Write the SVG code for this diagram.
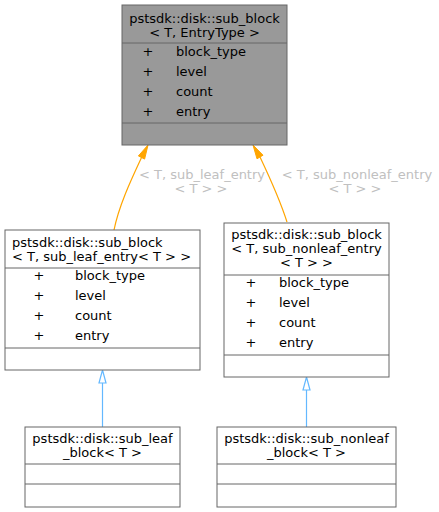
<svg xmlns="http://www.w3.org/2000/svg" width="439" height="512" viewBox="0 0 439 512">
<style>
text{font-family:"DejaVu Sans","Liberation Sans",sans-serif;font-size:13px;fill:#000}
.m{text-anchor:middle}
.box{fill:#fff;stroke:#666;stroke-width:1}
.cur{fill:#999;stroke:#666;stroke-width:1}
.sep{stroke:#666;stroke-width:1}
.lbl{fill:#c0c0c0;text-anchor:middle}
.tpl{fill:none;stroke:#ffa500;stroke-width:1.2}
.inh{fill:none;stroke:#63b8ff;stroke-width:1.2}
</style>
<rect width="439" height="512" fill="#fff"/>
<g id="connectors">
<path class="tpl" d="M114,230 C119,205 132,178 141.5,157.5"/>
<polygon points="148,145 144.6,159.1 138.4,155.9" fill="#ffa500" stroke="#ffa500"/>
<path class="tpl" d="M287,222 C280,200 269,176 260,157"/>
<polygon points="253,145 263,155.2 257,158.8" fill="#ffa500" stroke="#ffa500"/>
<text class="lbl" x="202" y="179">&lt; T, sub_leaf_entry</text>
<text class="lbl" x="201" y="193">&lt; T &gt; &gt;</text>
<text class="lbl" x="357" y="179">&lt; T, sub_nonleaf_entry</text>
<text class="lbl" x="355" y="193">&lt; T &gt; &gt;</text>
<path class="inh" d="M102.5,427 V383"/>
<polygon points="102.5,370 106,383 99,383" fill="#fff" stroke="#63b8ff" stroke-width="1.2"/>
<path class="inh" d="M306.5,427 V390"/>
<polygon points="306.5,377 310,390 303,390" fill="#fff" stroke="#63b8ff" stroke-width="1.2"/>
</g>
<g id="node_sub_block">
<rect class="cur" x="122" y="5" width="165" height="140"/>
<line class="sep" x1="122" y1="43" x2="287" y2="43"/>
<line class="sep" x1="122" y1="123" x2="287" y2="123"/>
<text class="m" x="204.5" y="23">pstsdk::disk::sub_block</text>
<text class="m" x="204.5" y="37">&lt; T, EntryType &gt;</text>
<text class="m" x="148" y="56">+</text><text x="176" y="56">block_type</text>
<text class="m" x="148" y="76">+</text><text x="176" y="76">level</text>
<text class="m" x="148" y="96">+</text><text x="176" y="96">count</text>
<text class="m" x="148" y="116">+</text><text x="176" y="116">entry</text>
</g>
<g id="node_sub_block_leaf">
<rect class="box" x="5" y="230" width="195" height="140"/>
<line class="sep" x1="5" y1="268" x2="200" y2="268"/>
<line class="sep" x1="5" y1="348" x2="200" y2="348"/>
<text x="12" y="246.5">pstsdk::disk::sub_block</text>
<text x="12" y="260.5">&lt; T, sub_leaf_entry&lt; T &gt; &gt;</text>
<text class="m" x="39" y="280">+</text><text x="75" y="280">block_type</text>
<text class="m" x="39" y="300">+</text><text x="75" y="300">level</text>
<text class="m" x="39" y="320">+</text><text x="75" y="320">count</text>
<text class="m" x="39" y="340">+</text><text x="75" y="340">entry</text>
</g>
<g id="node_sub_block_nonleaf">
<rect class="box" x="224" y="223" width="165" height="154"/>
<line class="sep" x1="224" y1="275" x2="389" y2="275"/>
<line class="sep" x1="224" y1="355" x2="389" y2="355"/>
<text class="m" x="306.5" y="239">pstsdk::disk::sub_block</text>
<text class="m" x="306.5" y="253">&lt; T, sub_nonleaf_entry</text>
<text class="m" x="306.5" y="267">&lt; T &gt; &gt;</text>
<text class="m" x="251" y="287">+</text><text x="279" y="287">block_type</text>
<text class="m" x="251" y="307">+</text><text x="279" y="307">level</text>
<text class="m" x="251" y="327">+</text><text x="279" y="327">count</text>
<text class="m" x="251" y="347">+</text><text x="279" y="347">entry</text>
</g>
<g id="node_sub_leaf_block">
<rect class="box" x="25" y="427" width="155" height="80"/>
<line class="sep" x1="25" y1="464" x2="180" y2="464"/>
<line class="sep" x1="25" y1="484" x2="180" y2="484"/>
<text class="m" x="102.5" y="443">pstsdk::disk::sub_leaf</text>
<text class="m" x="102.5" y="457">_block&lt; T &gt;</text>
</g>
<g id="node_sub_nonleaf_block">
<rect class="box" x="217" y="427" width="179" height="80"/>
<line class="sep" x1="217" y1="464" x2="396" y2="464"/>
<line class="sep" x1="217" y1="484" x2="396" y2="484"/>
<text class="m" x="306.5" y="443">pstsdk::disk::sub_nonleaf</text>
<text class="m" x="306.5" y="457">_block&lt; T &gt;</text>
</g>
</svg>
